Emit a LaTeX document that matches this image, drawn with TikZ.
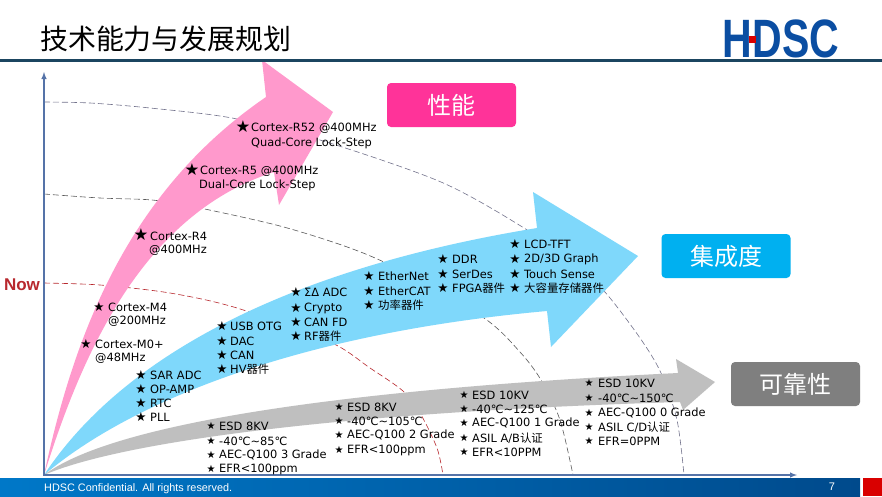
\documentclass[tikz,border=0pt]{standalone}
\usepackage{fontspec}
\setmainfont{DejaVu Sans}
\newfontfamily\cjkfont{Noto Sans CJK SC}
\newfontfamily\liberfont{Liberation Sans}
\usetikzlibrary{arrows,positioning}
\definecolor{headline}{HTML}{1B4560}
\definecolor{axisblue}{HTML}{5573A8}
\definecolor{perfpink}{HTML}{FF99CC}
\definecolor{perfbox}{HTML}{FF3399}
\definecolor{intblue}{HTML}{7FD8FB}
\definecolor{intbox}{HTML}{00B0F0}
\definecolor{relgray}{HTML}{BFBFBF}
\definecolor{relbox}{HTML}{7F7F7F}
\definecolor{logoblue}{HTML}{0B4EA2}
\definecolor{nowred}{HTML}{B8282E}
\definecolor{footleft}{HTML}{0078C8}
\definecolor{footright}{HTML}{004A8C}
\newcommand\zh[1]{{\cjkfont #1}}
\newcommand\StarList[4]{%
  \foreach \y/\t [count=\i] in {#4} {
    \node[starmark] (#1s\i) at (#2,\y) {★};
    \node[itemtext] (#1t\i) at (#3,\y) {\t};
  }
}
\tikzset{
  itemtext/.style={anchor=west,inner sep=0pt,font=\fontsize{11.4}{12}\selectfont},
  starmark/.style={inner sep=0pt,font=\fontsize{12.5}{13}\selectfont},
  bigstar/.style={inner sep=0pt,font=\fontsize{16.5}{17}\selectfont},
  tagbox/.style={rounded corners=4pt,text=white,inner sep=0pt,minimum width=129pt,minimum height=44pt,
    font=\cjkfont\fontsize{24}{26}\selectfont},
  guide/.style={dashed,dash pattern=on 6pt off 3pt,line width=0.6pt},
}
\begin{document}
\begin{tikzpicture}[x=1pt,y=-1pt]
\useasboundingbox (0,0) rectangle (882,496);
\fill[white] (0,0) rectangle (882,496);

% guide curves, they go behind the arrows
\draw[guide,color=gray!90!blue] plot[smooth] coordinates {(44,102) (90,103) (150,108) (232,118) (320,140)
  (441,182) (524,228) (570,262) (604,291) (640,338) (661,373) (677,420) (684,475)};
\draw[guide,color=black!65] plot[smooth] coordinates {(44,194) (100,198) (152,200) (195,207) (280,226)
  (350,248) (400,270) (484,318) (520,352) (541,380) (560,420) (573,475)};
\draw[guide,color=nowred] plot[smooth] coordinates {(44,283) (100,285) (170,293) (237,308) (330,342)
  (370,368) (403,391) (420,413) (437,448) (443,475)};

% the three arrows
\coordinate (O) at (44,475);
\fill[perfpink] (O) .. controls (75,330) and (130,190) .. (266,97) -- (262,60) -- (333,112)
  -- (279,205) -- (274,172) .. controls (140,215) and (80,360) .. (O);
\fill[intblue] (O) .. controls (120,360) and (280,270) .. (537,228) -- (533,192) -- (638,256)
  -- (551,347) -- (547,311) .. controls (280,335) and (120,410) .. (O);
\fill[relgray] (O) .. controls (110,425) and (330,390) .. (678,373) -- (676,359) -- (715,382)
  -- (683,410) -- (680,402) .. controls (340,412) and (120,442) .. (O);

% axes
\coordinate (ytip) at (44,72);
\coordinate (xtip) at (797,475);
\draw[axisblue,line width=1.4pt,latex-latex] (ytip) -- (O) -- (xtip);

% header
\node[anchor=west,inner sep=0pt,font=\cjkfont\fontsize{27.9}{30}\selectfont] (title) at (40,39) {技术能力与发展规划};
\node[inner sep=0pt,text=logoblue,font=\liberfont\bfseries\fontsize{54}{54}\selectfont,transform shape,xscale=.76] (logo) at (781,39) {HDSC};
\fill[red!85!black] (749,36) rectangle (756,43);
\coordinate (hl) at (0,60);
\coordinate (hr) at (882,60);
\draw[headline,line width=3pt] (hl) -- (hr);

% footer
\shade[left color=footleft,right color=footright] (0,478) rectangle (860,496);
\fill[red!85!black] (863,478) rectangle (882,496);
\node[anchor=west,inner sep=0pt,text=white,font=\liberfont\fontsize{10.85}{12}\selectfont] (conf) at (44,489) {HDSC Confidential. All rights reserved.};
\node[inner sep=0pt,text=white,font=\liberfont\fontsize{11}{12}\selectfont] (pageno) at (832,487) {7};

% tags
\node[tagbox,fill=perfbox] (perf) at (451.5,105) {性能};
\node[tagbox,fill=intbox] (integ) at (726,256) {集成度};
\node[tagbox,fill=relbox] (rel) at (795.5,384) {可靠性};
\node[inner sep=0pt,text=nowred,font=\liberfont\bfseries\fontsize{17}{18}\selectfont] (now) at (22,285) {Now};

% performance items
\node[bigstar] (rA) at (243,127) {★};
\node[itemtext] (rAa) at (251,128) {Cortex-R52 @400MHz};
\node[itemtext] (rAb) at (251,143) {Quad-Core Lock-Step};
\node[bigstar] (rB) at (192,170) {★};
\node[itemtext] (rBa) at (200,171) {Cortex-R5 @400MHz};
\node[itemtext] (rBb) at (199,185) {Dual-Core Lock-Step};
\node[bigstar] (rC) at (141,235) {★};
\node[itemtext] (rCa) at (150,236) {Cortex-R4};
\node[itemtext] (rCb) at (149,250) {@400MHz};
\StarList{mA}{99}{108}{307/Cortex-M4}
\node[itemtext] (mAb) at (108,321) {@200MHz};
\StarList{mB}{86}{95}{344/Cortex-M0+}
\node[itemtext] (mBb) at (95,358) {@48MHz};

% integration items
\StarList{a}{141}{150}{375/SAR ADC,389/OP-AMP,403/RTC,417/PLL}
\StarList{b}{222}{230}{326/USB OTG,341/DAC,355/CAN,369/HV\zh{器件}}
\StarList{c}{296}{304}{292/ΣΔ ADC,308/Crypto,322/CAN FD,336/RF\zh{器件}}
\StarList{d}{369}{378}{276/EtherNet,291/EtherCAT,305/\zh{功率器件}}
\StarList{e}{443}{452}{259/DDR,274/SerDes,288/FPGA\zh{器件}}
\StarList{f}{515}{524}{244/LCD-TFT,259/{2D/3D Graph},274/Touch Sense,288/\zh{大容量存储器件}}

% reliability items
\begin{scope}[starmark/.style={inner sep=0pt,font=\fontsize{10}{11}\selectfont}]
\StarList{g}{211}{219}{426/ESD 8KV,441/-40℃\textasciitilde 85℃,455/AEC-Q100 3 Grade,469/EFR<100ppm}
\StarList{h}{339}{347}{407/ESD 8KV,421/-40℃\textasciitilde 105℃,435/AEC-Q100 2 Grade,450/EFR<100ppm}
\StarList{k}{464}{472}{395/ESD 10KV,409/-40℃\textasciitilde 125℃,423/AEC-Q100 1 Grade,438/{ASIL A/B\zh{认证}},452/EFR<10PPM}
\StarList{l}{589}{598}{383/ESD 10KV,398/-40℃\textasciitilde 150℃,413/AEC-Q100 0 Grade,427/{ASIL C/D\zh{认证}},441/EFR=0PPM}
\end{scope}
\end{tikzpicture}
\end{document}
